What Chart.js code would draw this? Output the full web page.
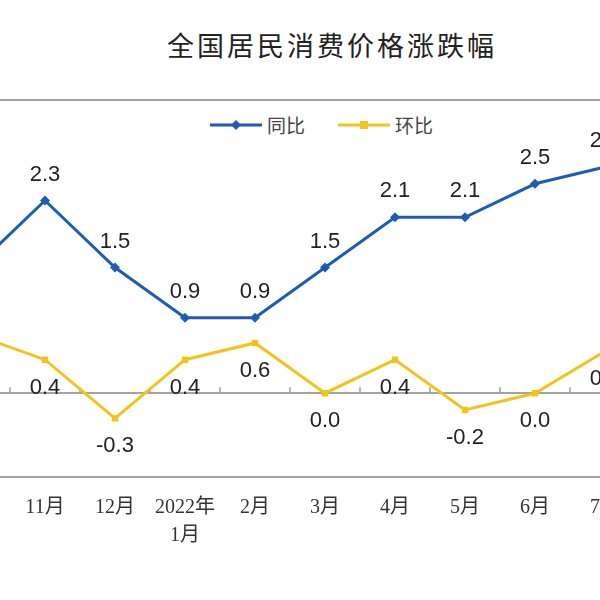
<!DOCTYPE html>
<html>
<head>
<meta charset="utf-8">
<script src="https://cdn.jsdelivr.net/npm/chart.js@4.4.0/dist/chart.umd.min.js"></script>
<style>
  html, body { margin: 0; padding: 0; background: #fff; }
  body { width: 600px; height: 600px; position: relative; overflow: hidden; }
  #title {
    position: absolute; top: 25px; left: 0; width: 664px; text-align: center;
    font-family: "Noto Sans CJK SC", sans-serif; font-size: 27px; letter-spacing: 3px;
    color: #222;
  }
  #legend { position: absolute; top: 112px; left: 0; height: 26px; }
  .item { position: absolute; top: 0; height: 26px; font-family: "Noto Sans CJK SC", sans-serif; font-size: 19px; color: #444; line-height: 26px; }
  .item canvas { position: absolute; top: 0; left: 0; }
  .item span { position: absolute; top: 0; left: 57px; white-space: nowrap; }
  #wrap { position: absolute; left: -65px; top: 0; width: 710px; height: 600px; }
</style>
</head>
<body>
<div id="title">全国居民消费价格涨跌幅</div>
<div id="legend"></div>
<div id="wrap"><canvas id="cpi-chart"></canvas></div>
<script>
const months = ["10月", "11月", "12月", ["2022年", "1月"], "2月", "3月", "4月", "5月", "6月", "7月"];
const seriesNames = ["同比", "环比"];
const yoy = [1.5, 2.3, 1.5, 0.9, 0.9, 1.5, 2.1, 2.1, 2.5, 2.7];
const mom = [0.7, 0.4, -0.3, 0.4, 0.6, 0.0, 0.4, -0.2, 0.0, 0.5];

const blue = "#1d5cb4";
const yellow = "#f2c419";

// value labels above (同比) / below (环比) the points
const valueLabels = {
  id: "valueLabels",
  afterDatasetsDraw(chart) {
    const ctx = chart.ctx;
    ctx.save();
    ctx.font = '22px "Liberation Sans", Arial, sans-serif';
    ctx.fillStyle = "#222";
    ctx.textAlign = "center";
    ctx.textBaseline = "middle";
    chart.data.datasets.forEach(function (ds, i) {
      const meta = chart.getDatasetMeta(i);
      meta.data.forEach(function (pt, j) {
        const dy = i === 0 ? -26 : 28;
        ctx.fillText(ds.data[j].toFixed(1), pt.x, pt.y + dy);
      });
    });
    ctx.restore();
  },
};

// small tick marks on the zero line between categories
const zeroTicks = {
  id: "zeroTicks",
  beforeDatasetsDraw(chart) {
    const x = chart.scales.x;
    const y0 = chart.scales.y.getPixelForValue(0);
    const ctx = chart.ctx;
    ctx.save();
    ctx.strokeStyle = "#a0a0a0";
    ctx.lineWidth = 1.5;
    for (let i = 0; i < months.length - 1; i++) {
      const bx = (x.getPixelForValue(i) + x.getPixelForValue(i + 1)) / 2;
      ctx.beginPath();
      ctx.moveTo(bx, y0);
      ctx.lineTo(bx, y0 - 6);
      ctx.stroke();
    }
    ctx.restore();
  },
};

const chart = new Chart(document.getElementById("cpi-chart"), {
  type: "line",
  data: {
    labels: months,
    datasets: [
      {
        label: seriesNames[0],
        data: yoy,
        borderColor: blue,
        backgroundColor: blue,
        borderWidth: 3,
        pointStyle: "rectRot",
        pointRadius: 5,
        pointBorderWidth: 0,
        tension: 0,
      },
      {
        label: seriesNames[1],
        data: mom,
        borderColor: yellow,
        backgroundColor: yellow,
        borderWidth: 3,
        pointStyle: "rect",
        pointRadius: 4.5,
        pointBorderWidth: 0,
        tension: 0,
      },
    ],
  },
  options: {
    responsive: true,
    maintainAspectRatio: false,
    animation: false,
    layout: { padding: { top: 100, bottom: 41, left: 0, right: 0 } },
    plugins: {
      legend: { display: false },
      tooltip: { enabled: false },
    },
    scales: {
      x: {
        offset: true,
        grid: { display: false },
        border: { display: false },
        ticks: {
          padding: 9,
          color: "#333",
          maxRotation: 0,
          autoSkip: false,
          font: { family: '"Liberation Serif", "Noto Sans CJK SC", serif', size: 20, lineHeight: 1.4 },
        },
      },
      y: {
        min: -1,
        max: 3.5,
        afterFit(s) { s.width = 0; },
        ticks: { display: false, stepSize: 0.5 },
        border: { display: false },
        grid: {
          drawTicks: false,
          lineWidth: 2,
          color(c) {
            const v = c.tick.value;
            return v === 0 || v === -1 || v === 3.5 ? "#a3a3a3" : "rgba(0,0,0,0)";
          },
        },
      },
    },
  },
  plugins: [valueLabels, zeroTicks],
});

// legend built from the datasets
const legend = document.getElementById("legend");
const legendX = [210, 338];
chart.data.datasets.forEach(function (ds, i) {
  const item = document.createElement("div");
  item.className = "item";
  item.style.left = legendX[i] + "px";
  const c = document.createElement("canvas");
  c.width = 54;
  c.height = 26;
  const g = c.getContext("2d");
  g.strokeStyle = ds.borderColor;
  g.fillStyle = ds.borderColor;
  g.lineWidth = 3;
  g.beginPath();
  g.moveTo(0, 13);
  g.lineTo(52, 13);
  g.stroke();
  if (ds.pointStyle === "rectRot") {
    g.beginPath();
    g.moveTo(26, 8); g.lineTo(31, 13); g.lineTo(26, 18); g.lineTo(21, 13);
    g.closePath();
    g.fill();
  } else {
    g.fillRect(22, 9, 8, 8);
  }
  const t = document.createElement("span");
  t.textContent = ds.label;
  item.appendChild(c);
  item.appendChild(t);
  legend.appendChild(item);
});
</script>
</body>
</html>
